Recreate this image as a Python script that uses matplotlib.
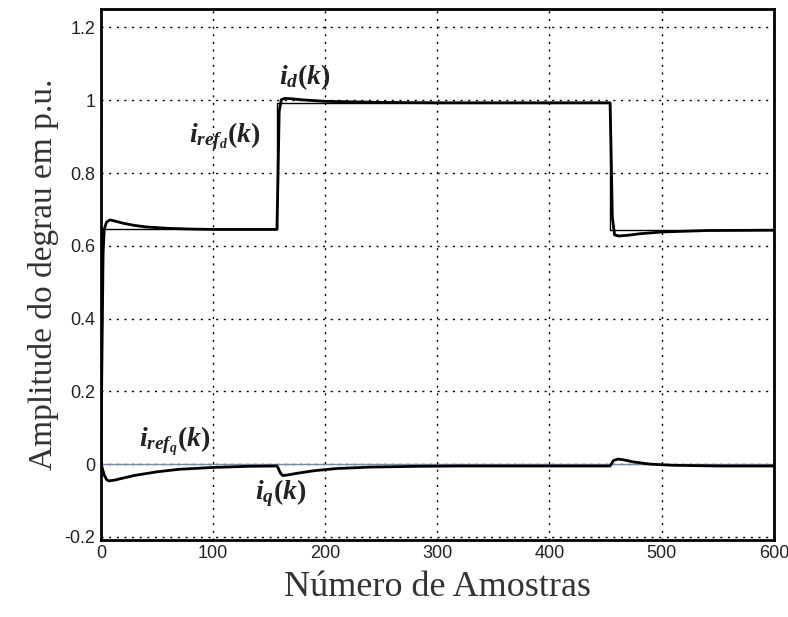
import matplotlib
matplotlib.use("Agg")
import matplotlib.pyplot as plt

plt.rcParams['mathtext.fontset'] = 'custom'
plt.rcParams['mathtext.it'] = 'Liberation Serif:italic:bold'
plt.rcParams['mathtext.rm'] = 'Liberation Serif:bold'
plt.rcParams['mathtext.bf'] = 'Liberation Serif:bold'

# reference d-axis current
k_refd = [0, 0, 157, 157, 454, 454, 600]
refd = [0, 0.645, 0.645, 0.993, 0.993, 0.643, 0.643]

# measured d-axis current
k_id = [0, 1, 2, 3, 5, 8, 10, 15, 20, 30, 40, 60, 80, 100, 130, 157, 158, 159, 161, 164, 170, 180, 200, 250, 300, 400, 454,
        455, 456, 458, 462, 470, 480, 500, 540, 600]
i_d = [0, 0.30, 0.58, 0.645, 0.665, 0.671, 0.670, 0.666, 0.662, 0.656, 0.652, 0.648, 0.646, 0.645, 0.645, 0.645, 0.80,
       0.97, 1.002, 1.005, 1.004, 1.001, 0.997, 0.994, 0.993, 0.993, 0.993,
       0.85, 0.68, 0.630, 0.627, 0.629, 0.633, 0.638, 0.642, 0.643]

# reference q-axis current
k_refq = [0, 600]
refq = [0, 0]

# measured q-axis current
k_iq = [0, 1, 3, 5, 7, 12, 20, 30, 50, 70, 100, 130, 157, 158, 160, 162, 166, 175, 190, 210, 240, 280, 320, 400, 454,
        455, 457, 461, 466, 475, 490, 510, 550, 600]
i_q = [0, -0.008, -0.030, -0.042, -0.046, -0.044, -0.038, -0.031, -0.021, -0.014, -0.009, -0.006, -0.005, -0.010,
       -0.024, -0.031, -0.030, -0.025, -0.018, -0.012, -0.008, -0.006, -0.005, -0.005, -0.005,
       0.000, 0.010, 0.014, 0.012, 0.006, 0.000, -0.003, -0.005, -0.005]

xticks = [0, 100, 200, 300, 400, 500, 600]
yticks = [-0.2, 0, 0.2, 0.4, 0.6, 0.8, 1, 1.2]
yticklabels = ['-0.2', '0', '0.2', '0.4', '0.6', '0.8', '1', '1.2']

fig = plt.figure(figsize=(7.88, 6.17), dpi=100)
ax = fig.add_axes([0.128, 0.125, 0.854, 0.86])

ax.plot(k_refq, refq, color='#7a8aa8', lw=1.0)
ax.plot(k_iq, i_q, color='black', lw=2.0)
ax.plot(k_refd, refd, color='black', lw=1.0)
ax.plot(k_id, i_d, color='black', lw=2.0)

ax.set_xlim(0, 600)
ax.set_ylim(-0.208, 1.25)
ax.set_xticks(xticks)
ax.set_yticks(yticks)
ax.set_yticklabels(yticklabels)
ax.tick_params(labelsize=13, length=0, pad=4, labelcolor='#222222')
for lab in ax.get_xticklabels() + ax.get_yticklabels():
    lab.set_fontfamily('Liberation Sans')
ax.grid(True, color='black', linestyle=(0, (1.5, 4)), lw=1.0)
for s in ax.spines.values():
    s.set_linewidth(2.0)

ax.set_xlabel('Número de Amostras', fontfamily='Liberation Serif', fontsize=26, color='#333333', labelpad=6)
ax.set_ylabel('Amplitude do degrau em p.u.', fontfamily='Liberation Serif', fontsize=24, color='#333333', labelpad=4)

fs = 20
ax.text(159, 1.044, r'$i_{d}(k)$', fontsize=fs, color='#222222')
ax.text(79, 0.885, r'$i_{ref_d}(k)$', fontsize=fs, color='#222222')
ax.text(34, 0.05, r'$i_{ref_q}(k)$', fontsize=fs, color='#222222')
ax.text(137, -0.096, r'$i_{q}(k)$', fontsize=fs, color='#222222')

fig.savefig('out.png', dpi=100)
